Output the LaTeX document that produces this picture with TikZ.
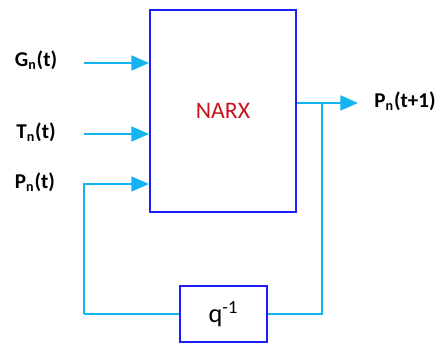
\documentclass[tikz,border=0pt]{standalone}
\usepackage{fontspec}
\setmainfont{Carlito}
\usetikzlibrary{arrows.meta,positioning,calc}
\definecolor{boxblue}{RGB}{30,30,250}
\definecolor{sigline}{RGB}{20,180,240}
\definecolor{narxred}{RGB}{200,20,30}

\begin{document}
\begin{tikzpicture}[x=0.02cm,y=-0.02cm,
    blk/.style={draw=boxblue,line width=1.2pt,fill=white,inner sep=0pt},
    sig/.style={draw=sigline,line width=1.1pt},
    sigarr/.style={sig,-{Triangle[length=10pt,width=8.5pt]}},
    lbl/.style={font=\bfseries\fontsize{12}{14}\selectfont,inner sep=1pt}]
    \useasboundingbox (0,0) rectangle (445,344);

    % NARX block
    \node[blk,minimum width=2.92cm,minimum height=4.04cm,
          font=\fontsize{13.5}{15}\selectfont,text=narxred] (narx) at (223,111) {NARX};
    % delay block
    \node[blk,minimum width=1.74cm,minimum height=1.12cm,
          font=\fontsize{15}{17}\selectfont] (delay) at (223.5,314) {q\textsuperscript{-1}};

    % inputs
    \node[lbl] (g) at (36,60) {G\textsubscript{n}(t)};
    \node[lbl] (t) at (36,132) {T\textsubscript{n}(t)};
    \node[lbl] (p) at (35,182) {P\textsubscript{n}(t)};
    \node[lbl] (out) at (405,101) {P\textsubscript{n}(t+1)};

    \coordinate (gs) at (84,63);
    \coordinate (ts) at (84,134);
    \coordinate (ps) at (84,184);
    \coordinate (os) at (358,103);
    \coordinate (br) at (322,103);

    \draw[sigarr] (gs) -- (narx.west |- gs);
    \draw[sigarr] (ts) -- (narx.west |- ts);
    \draw[sigarr] (ps |- delay) -- (ps) -- (narx.west |- ps);

    % output and feedback
    \draw[sigarr] (narx.east |- os) -- (os);
    \draw[sig] (br) -- (br |- delay) -- (delay.east);
    \draw[sig] (delay.west) -- (ps |- delay);
\end{tikzpicture}
\end{document}
